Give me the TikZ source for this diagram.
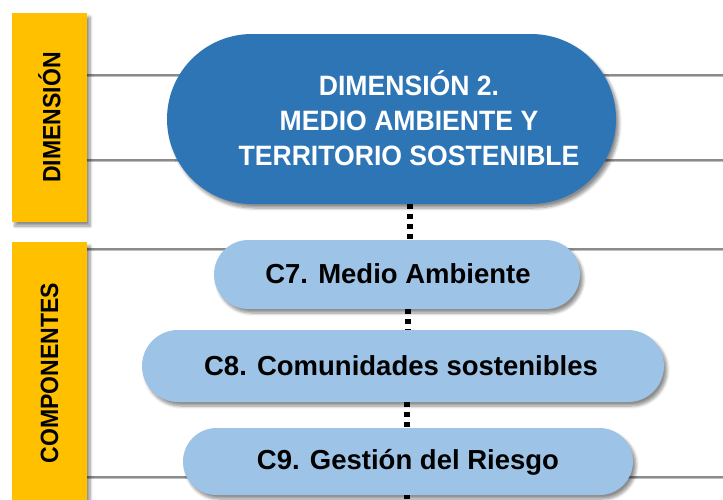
\documentclass[tikz,border=0pt]{standalone}
\usepackage{fontspec}
\setmainfont{Liberation Sans}
\newfontfamily\titlef{Liberation Sans}[FakeStretch=0.95]
\newfontfamily\sidef{Liberation Sans}[FakeStretch=0.92]
\newfontfamily\pillf{Liberation Sans}[FakeStretch=1.0]
\usetikzlibrary{shapes.misc,shadows.blur}
\definecolor{gold}{HTML}{FFC000}
\definecolor{dblue}{HTML}{2E75B6}
\definecolor{lblue}{HTML}{9DC3E6}
\definecolor{rulegray}{HTML}{8A8A8A}
\tikzset{
  myshadow/.style={blur shadow={shadow xshift=3pt,shadow yshift=-4pt,shadow blur steps=6,shadow opacity=45,shadow blur radius=3pt}},
  sidebar/.style={fill=gold,minimum width=75pt,inner sep=0pt,myshadow},
  sidetext/.style={rotate=90,font=\sidef\bfseries\fontsize{25}{25}\selectfont,text=black},
  bigpill/.style={rounded rectangle,fill=dblue,minimum width=449pt,minimum height=170pt,inner sep=0pt,myshadow},
  titletext/.style={align=center,text=white,font=\titlef\bfseries\fontsize{28}{35}\selectfont},
  pill/.style={rounded rectangle,fill=lblue,inner sep=0pt,myshadow},
  pilltext/.style={text=black,font=\pillf\bfseries\fontsize{27.5}{30}\selectfont},
  rule/.style={draw=rulegray,line width=1.1pt},
  ruleshade/.style={draw=black!25,line width=1.5pt},
  dotline/.style={draw=black,line width=5.5pt,dash pattern=on 5pt off 5pt}
}
\begin{document}
\begin{tikzpicture}[x=1pt,y=-1pt]
\useasboundingbox (0,0) rectangle (723,499);
% horizontal rules
\coordinate (r1a) at (87,75);   \coordinate (r1b) at (723,75);
\coordinate (r2a) at (87,160);  \coordinate (r2b) at (723,160);
\coordinate (r3a) at (87,249);  \coordinate (r3b) at (723,249);
\coordinate (r4a) at (87,477);  \coordinate (r4b) at (723,477);
\foreach \a/\b in {r1a/r1b,r2a/r2b,r3a/r3b,r4a/r4b}{
  \draw[ruleshade] ([yshift=-1.5pt]\a) -- ([yshift=-1.5pt]\b);
  \draw[rule] (\a) -- (\b);
}
% side bars
\node[sidebar,minimum height=209pt] (bar1) at (49.5,117.5) {};
\node[sidetext] (lab1) at (bar1.center) {DIMENSIÓN};
\node[sidebar,minimum height=262pt] (bar2) at (49.5,373) {};
\node[sidetext] (lab2) at (bar2.center) {COMPONENTES};
% connector x positions
\coordinate (k1) at (410,0);
\coordinate (k2) at (408,0);
\coordinate (k3) at (407,0);
\coordinate (kend) at (407,499);
% dimension pill
\node[bigpill] (dim) at (391.5,119) {};
\node[titletext] (dimtext) at (409,118) {DIMENSIÓN 2.\\MEDIO AMBIENTE Y\\TERRITORIO SOSTENIBLE};
% component pills
\node[pill,minimum width=366pt,minimum height=69pt] (c7) at (397,274.5) {};
\node[pilltext] (c7t) at (398,274) {C7. Medio Ambiente};
\node[pill,minimum width=522pt,minimum height=72pt] (c8) at (403,366) {};
\node[pilltext] (c8t) at (401,366) {C8. Comunidades sostenibles};
\node[pill,minimum width=450pt,minimum height=67pt] (c9) at (408,461.5) {};
\node[pilltext] (c9t) at (408,462) {C9. Gestión del Riesgo};
% dotted connectors
\draw[dotline] (dim.south -| k1) -- (c7.north -| k1);
\draw[dotline] (c7.south -| k2) -- (c8.north -| k2);
\draw[dotline] (c8.south -| k3) -- (c9.north -| k3);
\draw[dotline] (c9.south -| k3) -- (kend);
\end{tikzpicture}
\end{document}
